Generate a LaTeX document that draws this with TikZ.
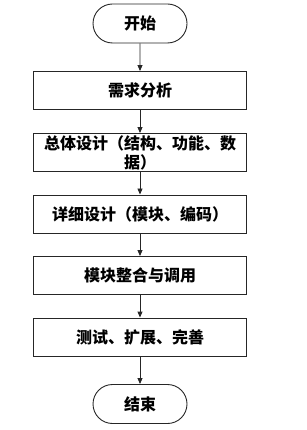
\documentclass[tikz,border=0pt]{standalone}
\usepackage{fontspec}
\newfontfamily\cjk{Noto Sans CJK SC}
\usetikzlibrary{arrows.meta,shapes.misc}
\begin{document}
\begin{tikzpicture}[x=1pt,y=-1pt,
  base/.style={draw=black!85, line width=0.9pt, font=\cjk\bfseries\fontsize{16}{19}\selectfont, align=center, inner sep=0pt},
  box/.style={base, minimum width=213pt, minimum height=38pt},
  term/.style={base, rounded rectangle, minimum width=94pt, minimum height=39pt},
  arr/.style={draw=black!85, line width=0.9pt, -{Triangle[length=6pt,width=5pt]}}]
\useasboundingbox (0,0) rectangle (307,430);
\node[term] (start) at (140,23.5) {开始};
\node[box] (b1) at (140,90.5) {需求分析};
\node[box] (b2) at (140,152.5) {总体设计（结构、功能、数\\据）};
\node[box] (b3) at (140,214) {详细设计（模块、编码）};
\node[box] (b4) at (140,275.5) {模块整合与调用};
\node[box] (b5) at (140,337) {测试、扩展、完善};
\node[term] (end) at (140,404) {结束};
\draw[arr] (start) -- (b1);
\draw[arr] (b1) -- (b2);
\draw[arr] (b2) -- (b3);
\draw[arr] (b3) -- (b4);
\draw[arr] (b4) -- (b5);
\draw[arr] (b5) -- (end);
\end{tikzpicture}
\end{document}
